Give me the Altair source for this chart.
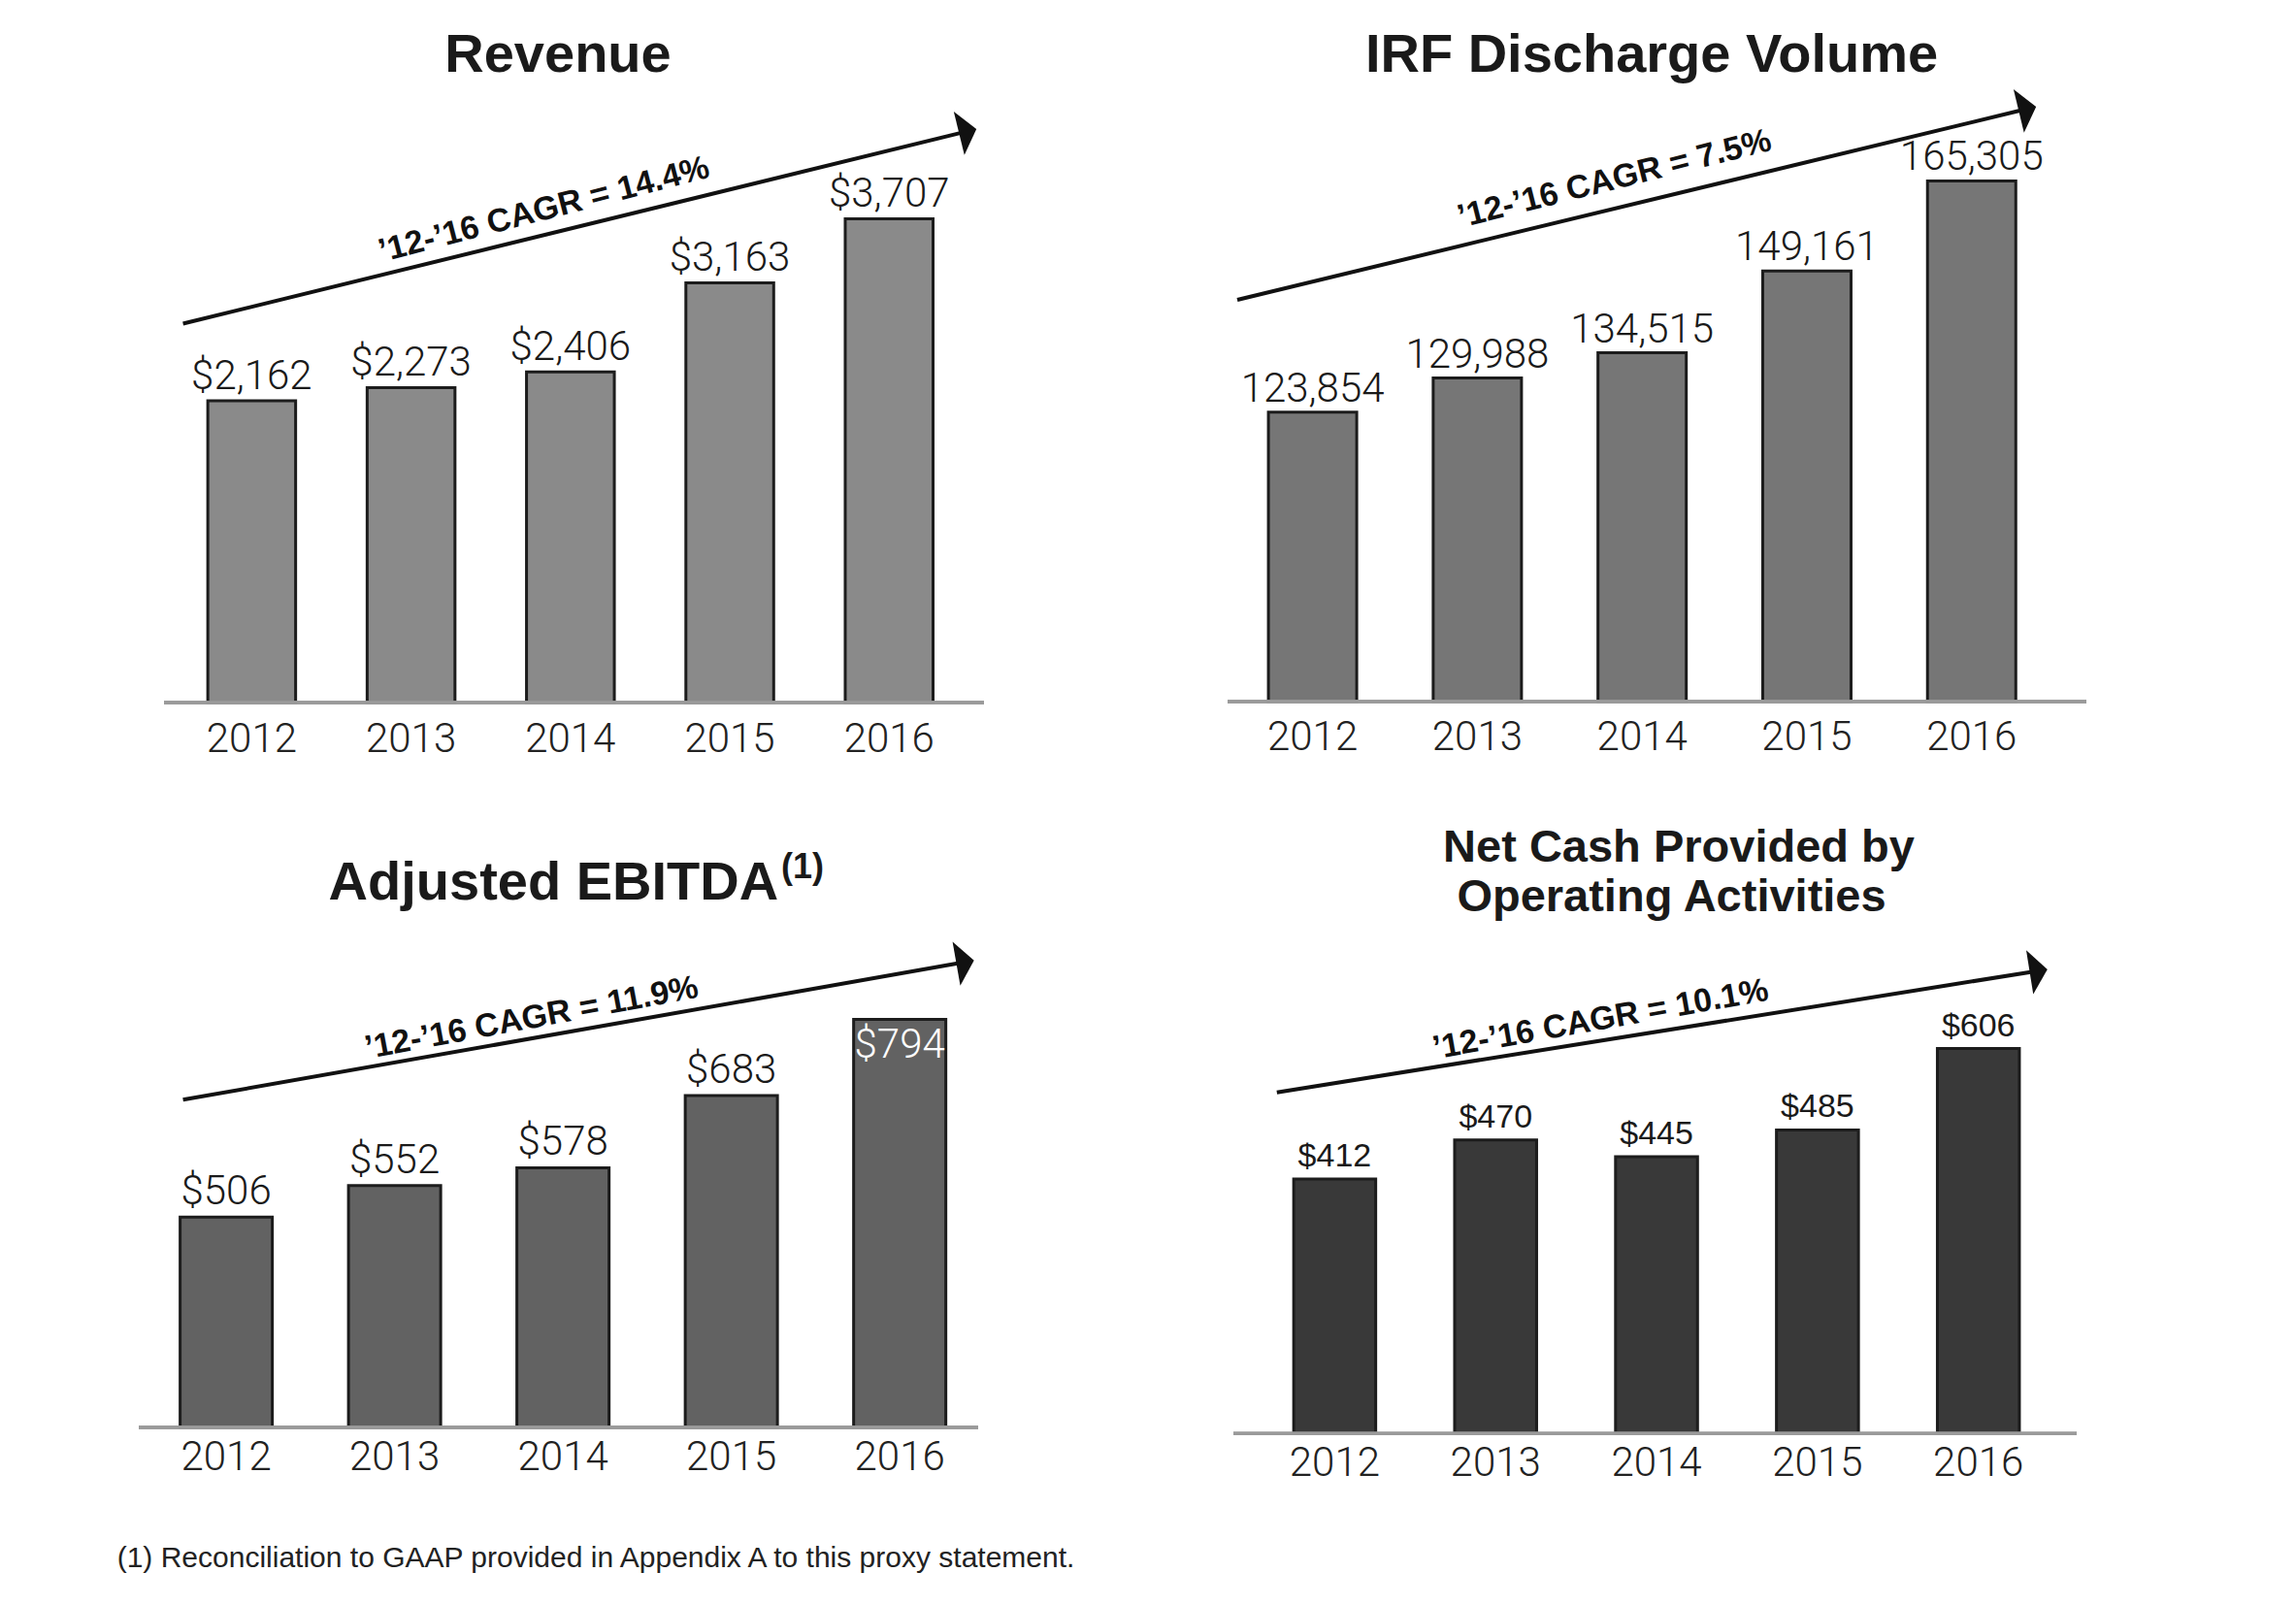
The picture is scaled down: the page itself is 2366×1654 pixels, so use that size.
import math
import altair as alt
import pandas as pd

# ---------------- data ----------------
years = ["2012", "2013", "2014", "2015", "2016"]
revenue = [2162, 2273, 2406, 3163, 3707]
irf_discharges = [123854, 129988, 134515, 149161, 165305]
adj_ebitda = [506, 552, 578, 683, 794]
net_cash = [412, 470, 445, 485, 606]

title_revenue = "Revenue"
title_irf = "IRF Discharge Volume"
title_ebitda = "Adjusted EBITDA"
title_ebitda_sup = "(1)"
title_cash = ["Net Cash Provided by", "Operating Activities"]
cagr_labels = ["’12-’16 CAGR = 14.4%", "’12-’16 CAGR = 7.5%",
               "’12-’16 CAGR = 11.9%", "’12-’16 CAGR = 10.1%"]
footnote = "(1) Reconciliation to GAAP provided in Appendix A to this proxy statement."

LIGHT_FONT = "Roboto"
BOLD_FONT = "Liberation Sans"
INK = "#1a1a1a"
ARROW_PATH = "M0.4,0 L-0.4,-1 L-0.4,1 Z"
PANEL_W = 1175


def panel(values, cfg):
    df = pd.DataFrame({"year": years, "value": values})
    W, H = PANEL_W, cfg["H"]
    v0, a, base = cfg["v0"], cfg["a"], cfg["base"]
    c0, c4 = cfg["centers"]
    step = (c4 - c0) / 4.0
    first = float(years[0])
    xscale = alt.Scale(domain=[first - c0 / step, first + (W - c0) / step], zero=False, nice=False)
    yscale = alt.Scale(domain=[v0 - (H - base) / a, v0 + base / a], zero=False, nice=False)
    X = alt.X("yr:Q", scale=xscale, axis=None)
    Y = alt.Y("value:Q", scale=yscale, axis=None)

    base_c = alt.Chart(df).transform_calculate(yr="toNumber(datum.year)", base=f"{v0}")
    bars = base_c.mark_bar(fill=cfg["fill"], stroke="#1c1c1c", strokeWidth=3,
                           width=cfg["bw"]).encode(x=X, y=Y, y2=alt.Y2("base:Q"))

    axis_line = base_c.mark_rule(color="#9a9a9a", strokeWidth=3).encode(
        x=alt.value(cfg["rule"][0]), x2=alt.value(cfg["rule"][1]),
        y=alt.Y("base:Q", scale=yscale, axis=None))

    lab_font = cfg.get("lab_font", LIGHT_FONT)
    lab_weight = cfg.get("lab_weight", 300)
    lab_size = cfg.get("lab_size", 42)
    inside = cfg.get("inside")
    above_src = base_c
    if inside:
        above_src = base_c.transform_filter(f"datum.year != '{inside}'")
    vlabels = above_src.mark_text(font=lab_font, fontWeight=lab_weight, fontSize=lab_size,
                                  baseline="alphabetic", align="center", dy=cfg["dy"],
                                  color=INK).encode(
        x=X, y=Y, text=alt.Text("value:Q", format=cfg["fmt"]))
    layers = [bars, axis_line, vlabels]
    if inside:
        inl = base_c.transform_filter(f"datum.year == '{inside}'").mark_text(
            font=lab_font, fontWeight=lab_weight, fontSize=lab_size, baseline="alphabetic",
            align="center", dy=40, color="white").encode(
            x=X, y=Y, text=alt.Text("value:Q", format=cfg["fmt"]))
        layers.append(inl)

    ylabels = base_c.mark_text(font=LIGHT_FONT, fontWeight=300, fontSize=42,
                               baseline="alphabetic", align="center", color="#222").encode(
        x=X, y=alt.value(cfg["year_y"]), text="year:N")
    layers.append(ylabels)

    ann = alt.Chart(pd.DataFrame({"label": [cfg["cagr"]]}))
    (ax0, ay0), (tx, ty) = cfg["arrow"]
    ang = math.atan2(ty - ay0, tx - ax0)
    ux, uy = math.cos(ang), math.sin(ang)
    deg = math.degrees(ang) % 360
    line = ann.mark_rule(color="#111", strokeWidth=4).encode(
        x=alt.value(ax0), y=alt.value(ay0), x2=alt.value(tx - 14 * ux), y2=alt.value(ty - 14 * uy))
    head = ann.mark_point(shape=ARROW_PATH, filled=True, size=2116, angle=deg,
                          color="#111", opacity=1, strokeWidth=0).encode(
        x=alt.value(tx - 9 * ux), y=alt.value(ty - 9 * uy))
    cx, cy, cang = cfg["cagr_pos"]
    ctext = ann.mark_text(font=BOLD_FONT, fontWeight="bold", fontSize=34, angle=cang % 360,
                          align="center", baseline="middle", color="#111").encode(
        x=alt.value(cx), y=alt.value(cy), text="label:N")
    layers += [line, head, ctext]

    for (txt, x, y, size, align) in cfg["titles"]:
        layers.append(ann.mark_text(font=BOLD_FONT, fontWeight="bold", fontSize=size,
                                    align=align, baseline="alphabetic", color=INK).encode(
            x=alt.value(x), y=alt.value(y), text=alt.value(txt)))
    if "footnote" in cfg:
        fx, fy = cfg["footnote"]
        layers.append(ann.mark_text(font=BOLD_FONT, fontSize=30, align="left",
                                    baseline="alphabetic", color="#222").encode(
            x=alt.value(fx), y=alt.value(fy), text=alt.value(footnote)))

    return alt.layer(*layers).properties(width=W, height=H)


cfg1 = dict(
    H=822, v0=-400, a=0.1214, base=716, centers=(248.5, 911), bw=90.5,
    fill="#8a8a8a", rule=[161, 1006], year_y=767, dy=-12, fmt="$,d",
    arrow=((180.6, 325.5), (998, 125)), cagr=cagr_labels[0], cagr_pos=(552.6, 208.5, -14.5),
    titles=[(title_revenue, 567, 66, 56, "center")])
cfg2 = dict(
    H=822, v0=72000, a=0.00575, base=715, centers=(166, 851), bw=91,
    fill="#767676", rule=[82, 967], year_y=765, dy=-11, fmt=",d",
    arrow=((92, 301), (915, 102)), cagr=cagr_labels[1], cagr_pos=(480.7, 176.9, -14),
    titles=[(title_irf, 519, 66, 56, "center")])
cfg3 = dict(
    H=800, v0=200, a=0.708, base=641, centers=(222, 922), bw=95,
    fill="#626262", rule=[135, 1000], year_y=685, dy=-13, fmt="$,d", inside="2016",
    arrow=((180.6, 303.3), (995.5, 159.9)), cagr=cagr_labels[2], cagr_pos=(539.8, 219.5, -10.5),
    titles=[(title_ebitda, 562.4, 96.5, 56, "center"), (title_ebitda_sup, 797, 75.4, 36, "left")],
    footnote=(112.7, 784.6))
cfg4 = dict(
    H=800, v0=33, a=0.6923, base=647.3, centers=(189, 858), bw=84.5,
    fill="#393939", rule=[88, 957], year_y=691, dy=-13, fmt="$,d",
    lab_font=BOLD_FONT, lab_weight="normal", lab_size=34,
    arrow=((132.8, 295.7), (926.6, 169)), cagr=cagr_labels[3], cagr_pos=(466.3, 221, -10),
    titles=[(title_cash[0], 547, 58, 47, "center"), (title_cash[1], 539.5, 109, 47, "center")])

p1 = panel(revenue, cfg1)
p2 = panel(irf_discharges, cfg2)
p3 = panel(adj_ebitda, cfg3)
p4 = panel(net_cash, cfg4)

chart = alt.vconcat(
    alt.hconcat(p1, p2, spacing=0),
    alt.hconcat(p3, p4, spacing=0),
    spacing=0,
).properties(padding=0).configure(background="white").configure_view(
    stroke="transparent", strokeWidth=0)

chart.save("out.html", embed_options={"renderer": "svg", "actions": False})
